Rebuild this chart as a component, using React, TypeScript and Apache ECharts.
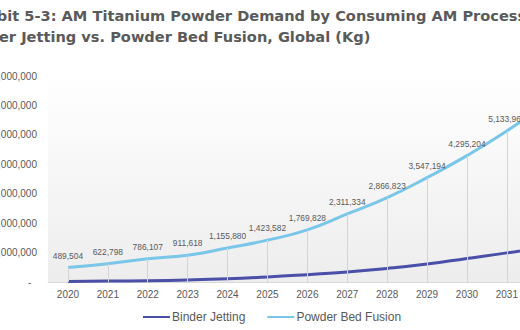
import React, { useEffect, useRef } from "react";
import * as echarts from "echarts";

const categories = ["2020", "2021", "2022", "2023", "2024", "2025", "2026", "2027", "2028", "2029", "2030", "2031", "2032"];
const powderBedFusion = [489504, 622798, 786107, 911618, 1155880, 1423582, 1769828, 2311334, 2866823, 3547194, 4295204, 5133960, 6070000];
const binderJetting = [20000, 30000, 45000, 70000, 110000, 170000, 250000, 340000, 460000, 610000, 800000, 990000, 1200000];
const yTicks = { min: 0, max: 7000000, interval: 1000000 };

const titleText = "Exhibit 5-3: AM Titanium Powder Demand by Consuming AM Process:\nBinder Jetting vs. Powder Bed Fusion, Global (Kg)";

const fmt = (v: number) => Math.round(v).toLocaleString("en-US");

// The reference is a crop of a wider chart: the chart canvas extends past both edges of the window.
const OFFSET_LEFT = 50;
const CHART_W = 660;

export default function App() {
  const ref = useRef<HTMLDivElement>(null);
  useEffect(() => {
    if (!ref.current) return;
    const chart = echarts.init(ref.current, null, { renderer: "svg" });
    const dropLines = categories.map((c, i) => [
      { xAxis: c, yAxis: 0 },
      { xAxis: c, yAxis: powderBedFusion[i] },
    ]);
    const gridLeft = 48 + OFFSET_LEFT;
    const gridWidth = 39.9 * categories.length;
    chart.setOption({
      animation: false,
      title: {
        text: titleText,
        left: OFFSET_LEFT - 43,
        top: 0,
        textStyle: {
          fontFamily: "DejaVu Sans",
          fontSize: 14.6,
          fontWeight: "bold",
          color: "#5a5a5a",
          lineHeight: 21,
        },
      },
      grid: {
        left: gridLeft,
        width: gridWidth,
        top: 76,
        bottom: 48,
        show: true,
        borderWidth: 0,
        backgroundColor: new echarts.graphic.LinearGradient(0, 0, 0, 1, [
          { offset: 0, color: "#ffffff" },
          { offset: 1, color: "#ededed" },
        ]),
      },
      legend: {
        data: ["Binder Jetting", "Powder Bed Fusion"],
        left: OFFSET_LEFT + 138,
        top: 306,
        icon: "rect",
        itemWidth: 27,
        itemHeight: 2,
        itemGap: 22,
        textStyle: { fontFamily: "Liberation Sans", fontSize: 12, color: "#595959", padding: [0, 0, 0, -3] },
      },
      xAxis: {
        type: "category",
        data: categories,
        boundaryGap: true,
        axisLine: { lineStyle: { color: "#d9d9d9" } },
        axisTick: { show: false },
        axisLabel: { fontFamily: "Liberation Sans", fontSize: 10, color: "#595959", margin: 7 },
      },
      yAxis: {
        type: "value",
        min: yTicks.min,
        max: yTicks.max,
        interval: yTicks.interval,
        axisLine: { show: false },
        axisTick: { show: false },
        splitLine: { show: false },
        axisLabel: {
          fontFamily: "Liberation Sans",
          fontSize: 10,
          color: "#595959",
          margin: 11,
          formatter: (v: number) => (v === 0 ? "-  " : fmt(v)),
        },
      },
      series: [
        {
          name: "drop",
          type: "line",
          data: [],
          z: 1,
          markLine: {
            silent: true,
            symbol: ["none", "none"],
            label: { show: false },
            lineStyle: { color: "#d4d4d4", width: 1, type: "solid" },
            data: dropLines,
          },
        },
        {
          name: "Binder Jetting",
          type: "line",
          data: binderJetting,
          smooth: true,
          showSymbol: false,
          z: 3,
          itemStyle: { color: "#4a4fa8" },
          lineStyle: { color: "#4a4fa8", width: 3 },
        },
        {
          name: "Powder Bed Fusion",
          type: "line",
          data: powderBedFusion,
          smooth: true,
          symbol: "circle",
          symbolSize: 0,
          showSymbol: true,
          z: 3,
          itemStyle: { color: "#7ac6e8" },
          lineStyle: { color: "#7ac6e8", width: 3 },
          label: {
            show: true,
            position: "top",
            distance: 8,
            fontFamily: "Liberation Sans",
            fontSize: 8.4,
            color: "#595959",
            formatter: (p: any) => fmt(p.value),
          },
        },
      ],
    });
    return () => chart.dispose();
  }, []);
  return (
    <div style={{ position: "fixed", left: 0, top: 0, width: 520, height: 330, overflow: "hidden", background: "#fff" }}>
      <div ref={ref} style={{ position: "absolute", left: -OFFSET_LEFT, top: 0, width: CHART_W, height: 330 }} />
    </div>
  );
}
